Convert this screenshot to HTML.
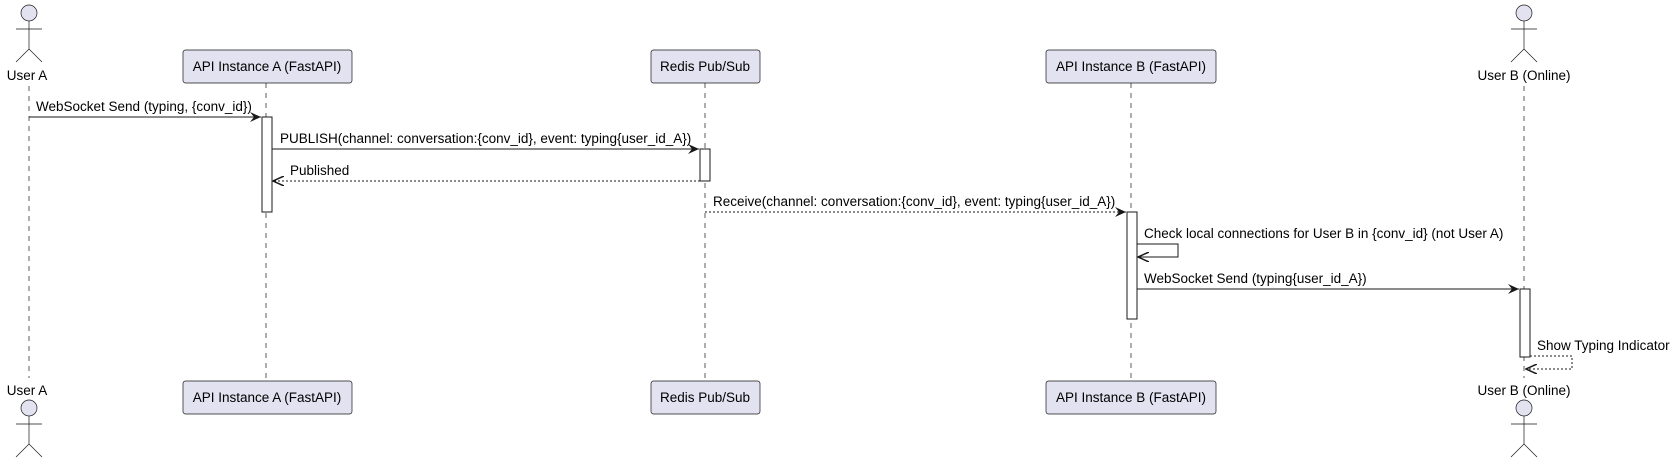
<!DOCTYPE html>
<html><head><style>body{margin:0;background:#fff}</style></head><body>
<svg width="1679" height="464" xmlns="http://www.w3.org/2000/svg" font-family="Liberation Sans, DejaVu Sans, sans-serif" font-size="13.5">
<defs>
<marker id="a" markerWidth="12" markerHeight="10" refX="11" refY="5" orient="auto" markerUnits="userSpaceOnUse"><path d="M0,0 L11,5 L0,10 L4,5 Z" fill="#181818"/></marker>
<marker id="o" markerWidth="12" markerHeight="10" refX="11" refY="5" orient="auto" markerUnits="userSpaceOnUse"><path d="M0,0 L11,5 L0,10" fill="none" stroke="#181818" stroke-width="1.5"/></marker>
</defs>
<g stroke="#181818" stroke-width="0.7" stroke-dasharray="5,5">
<line x1="29" y1="86" x2="29" y2="378"/><line x1="266" y1="83" x2="266" y2="380"/><line x1="705" y1="83" x2="705" y2="380"/><line x1="1131" y1="83" x2="1131" y2="380"/><line x1="1524" y1="86" x2="1524" y2="378"/>
</g>
<g fill="#e2e2f0" stroke="#181818" stroke-width="0.7">
<rect x="183" y="50" width="169" height="33" rx="2.5"/><rect x="651" y="50" width="109" height="33" rx="2.5"/><rect x="1046" y="50" width="170" height="33" rx="2.5"/>
<rect x="183" y="381" width="169" height="33" rx="2.5"/><rect x="651" y="381" width="109" height="33" rx="2.5"/><rect x="1046" y="381" width="170" height="33" rx="2.5"/>
</g>
<g text-anchor="middle" fill="#000">
<text x="267" y="71">API Instance A (FastAPI)</text><text x="705" y="71">Redis Pub/Sub</text><text x="1131" y="71">API Instance B (FastAPI)</text>
<text x="267" y="402">API Instance A (FastAPI)</text><text x="705" y="402">Redis Pub/Sub</text><text x="1131" y="402">API Instance B (FastAPI)</text>
<text x="27" y="80">User A</text><text x="1524" y="80">User B (Online)</text>
<text x="27" y="395">User A</text><text x="1524" y="395">User B (Online)</text>
</g>
<g fill="#e2e2f0" stroke="#181818" stroke-width="0.7">
<g id="act"><circle cx="29" cy="13" r="8"/><path d="M29,21 V49 M16,29 H42 M29,49 L16,62 M29,49 L42,62" fill="none"/></g>
<use href="#act" x="1495"/>
<use href="#act" y="395"/><use href="#act" x="1495" y="395"/>
</g>
<g fill="#fff" stroke="#181818" stroke-width="1">
<rect x="262" y="117" width="10" height="95"/><rect x="700" y="149" width="10" height="32"/><rect x="1127" y="212" width="10" height="107"/><rect x="1520" y="289" width="10" height="68"/>
</g>
<g stroke="#181818" stroke-width="1" fill="none">
<line x1="29" y1="117" x2="261" y2="117" marker-end="url(#a)"/>
<line x1="272" y1="149" x2="699" y2="149" marker-end="url(#a)"/>
<line x1="700" y1="181" x2="273" y2="181" stroke-dasharray="2,2" marker-end="url(#o)"/>
<line x1="705" y1="212" x2="1126" y2="212" stroke-dasharray="2,2" marker-end="url(#a)"/>
<polyline points="1137,244 1178,244 1178,257 1138,257" marker-end="url(#o)"/>
<line x1="1137" y1="289" x2="1519" y2="289" marker-end="url(#a)"/>
<polyline points="1530,356 1572,356 1572,369 1526,369" stroke-dasharray="2,2" marker-end="url(#o)"/>
</g>
<g fill="#000">
<text x="36" y="111">WebSocket Send (typing, {conv_id})</text>
<text x="280" y="143">PUBLISH(channel: conversation:{conv_id}, event: typing{user_id_A})</text>
<text x="290" y="175">Published</text>
<text x="713" y="206">Receive(channel: conversation:{conv_id}, event: typing{user_id_A})</text>
<text x="1144" y="238">Check local connections for User B in {conv_id} (not User A)</text>
<text x="1144" y="283">WebSocket Send (typing{user_id_A})</text>
<text x="1537" y="350">Show Typing Indicator</text>
</g>
</svg>
</body></html>
